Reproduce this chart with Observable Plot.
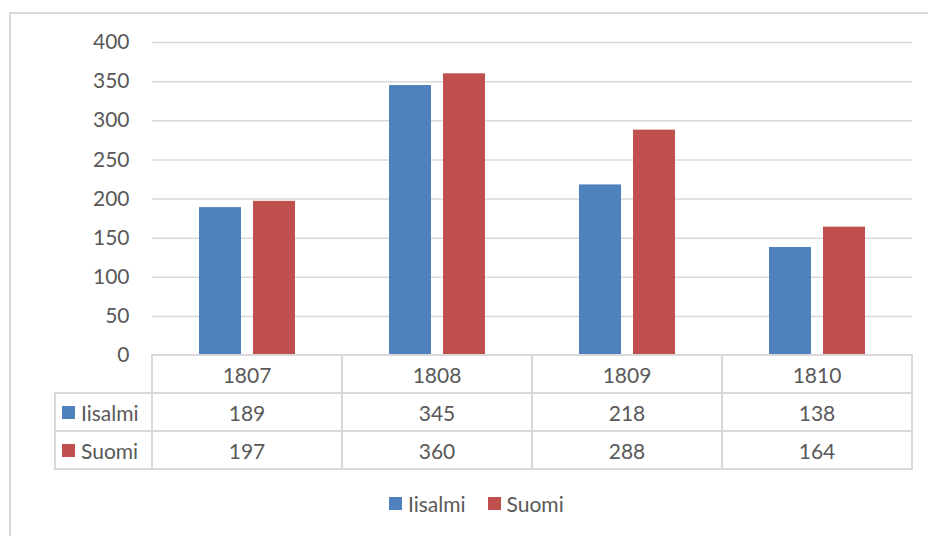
<!DOCTYPE html>
<html>
<head>
<meta charset="utf-8">
<script src="https://cdn.jsdelivr.net/npm/d3@7"></script>
<script src="https://cdn.jsdelivr.net/npm/@observablehq/plot@0.6"></script>
<style>
  html, body { margin: 0; padding: 0; background: #fff; }
  #wrap { position: relative; width: 928px; height: 536px; overflow: hidden; background: #fff;
          font-family: Lato, "Open Sans", sans-serif; color: #595959; }
  #frame { position: absolute; left: 9px; top: 12px; width: 960px; height: 560px;
           border: 2px solid #d9d9d9; box-sizing: border-box; }
  #chart { position: absolute; left: 0; top: 0; }
  .cell { position: absolute; box-sizing: border-box; border: 2px solid #d9d9d9;
          display: flex; align-items: center; justify-content: center; font-size: 21px; color: #595959; }
  .lab { justify-content: flex-start; padding-left: 6px; }
  .sw { display: inline-block; width: 13px; height: 13px; margin-right: 6px; }
  #legend { position: absolute; top: 491px; left: 389px; display: flex; align-items: center;
            font-size: 21px; color: #595959; }
  #legend span.item { display: flex; align-items: center; margin-right: 22px; }
</style>
</head>
<body>
<div id="wrap">
  <div id="frame"></div>
  <div id="chart"></div>
  <div id="table"></div>
  <div id="legend"></div>
</div>
<script>
const years = ["1807", "1808", "1809", "1810"];
const series = ["Iisalmi", "Suomi"];
const iisalmi = [189, 345, 218, 138];
const suomi = [197, 360, 288, 164];
const colors = ["#4F81BD", "#C0504D"];
const yTicks = [0, 50, 100, 150, 200, 250, 300, 350, 400];

const values = {Iisalmi: iisalmi, Suomi: suomi};
const data = years.flatMap((yr, i) => series.map(s => ({year: yr, series: s, value: values[s][i]})));

const plot = Plot.plot({
  width: 928,
  height: 357,
  marginLeft: 152,
  marginRight: 16,
  marginTop: 42,
  marginBottom: 2,
  style: {fontFamily: "Lato, 'Open Sans', sans-serif", fontSize: "21px", color: "#595959", background: "transparent", overflow: "visible"},
  fx: {domain: years, padding: 0, axis: null},
  x: {domain: series, paddingInner: 0.222, paddingOuter: 0.87, axis: null},
  y: {domain: [0, 400], ticks: yTicks, tickSize: 0, tickPadding: 23, label: null},
  color: {domain: series, range: colors},
  marks: [
    Plot.ruleY(yTicks.filter(d => d > 0), {stroke: "#d9d9d9", strokeWidth: 1.5}),
    Plot.barY(data, {fx: "year", x: "series", y: "value", fill: "series"})
  ]
});
document.getElementById("chart").appendChild(plot);

// Data table aligned with the plot's fx scale
const fx = plot.scale("fx");
const bw = fx.bandwidth;
const table = document.getElementById("table");
const rowTop = 355, rowH = 38, labelLeft = 55;
function cell(left, top, w, h, html, cls) {
  const d = document.createElement("div");
  d.className = "cell" + (cls ? " " + cls : "");
  d.style.left = (left - 1) + "px";
  d.style.top = (top - 1) + "px";
  d.style.width = (w + 2) + "px";
  d.style.height = (h + 2) + "px";
  d.innerHTML = html;
  table.appendChild(d);
}
years.forEach(yr => cell(fx.apply(yr), rowTop, bw, rowH, yr));
const x0 = fx.apply(years[0]);
series.forEach((s, si) => {
  const top = rowTop + rowH * (si + 1);
  cell(labelLeft, top, x0 - labelLeft, rowH,
       `<span class="sw" style="background:${colors[si]}"></span>${s}`, "lab");
  years.forEach((yr, i) => cell(fx.apply(yr), top, bw, rowH, String(values[s][i])));
});

// Legend
const legend = document.getElementById("legend");
series.forEach((s, si) => {
  const it = document.createElement("span");
  it.className = "item";
  it.innerHTML = `<span class="sw" style="background:${colors[si]}"></span>${s}`;
  legend.appendChild(it);
});
</script>
</body>
</html>
